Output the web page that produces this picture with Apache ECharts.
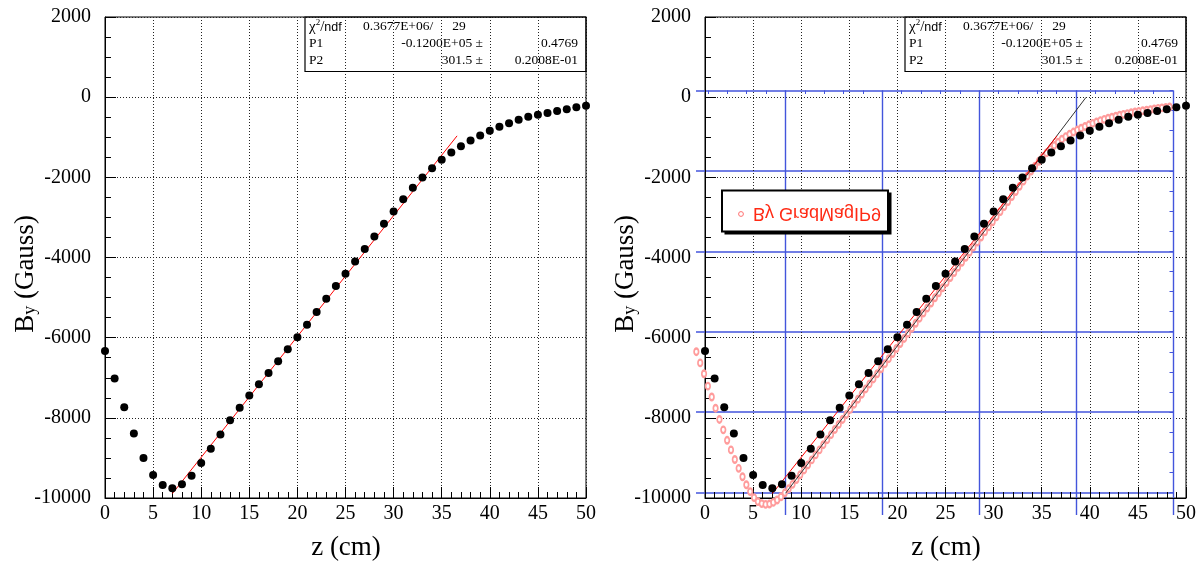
<!DOCTYPE html>
<html>
<head>
<meta charset="utf-8">
<script src="https://cdn.jsdelivr.net/npm/echarts@6.0.0/dist/echarts.min.js"></script>
<style>
html, body { margin: 0; padding: 0; background: #ffffff; }
#chart { width: 1203px; height: 562px; }
</style>
</head>
<body>
<div id="chart"></div>
<script>
// Measured field: B_y versus z, one point per cm
const zCm = [0, 1, 2, 3, 4, 5, 6, 7, 8, 9, 10, 11, 12, 13, 14, 15, 16, 17, 18, 19, 20,
  21, 22, 23, 24, 25, 26, 27, 28, 29, 30, 31, 32, 33, 34, 35, 36, 37, 38, 39, 40,
  41, 42, 43, 44, 45, 46, 47, 48, 49, 50];
const byGauss = [-6333, -7020, -7734, -8388, -9003, -9426, -9675, -9757, -9657, -9443, -9127,
  -8771, -8413, -8058, -7751, -7443, -7162, -6881, -6590, -6291, -5992,
  -5680, -5360, -5030, -4713, -4406, -4098, -3790, -3474, -3159, -2850,
  -2544, -2262, -2003, -1771, -1563, -1380, -1222, -1081, -956, -840,
  -740, -648, -565, -490, -440, -392, -346, -299, -252, -216];

// GradMagIP9 field map (open circles)
const gradZ = [-0.9, -0.5, -0.1, 0.3, 0.7, 1.1, 1.5, 1.9, 2.3, 2.7,
  3.1, 3.5, 3.9, 4.3, 4.7, 5.1, 5.5, 5.9, 6.3, 6.7,
  7.1, 7.5, 7.9, 8.3, 8.7, 9.1, 9.5, 9.9, 10.3, 10.7,
  11.1, 11.5, 11.9, 12.3, 12.7, 13.1, 13.5, 13.9, 14.3, 14.7,
  15.1, 15.5, 15.9, 16.3, 16.7, 17.1, 17.5, 17.9, 18.3, 18.7,
  19.1, 19.5, 19.9, 20.3, 20.7, 21.1, 21.5, 21.9, 22.3, 22.7,
  23.1, 23.5, 23.9, 24.3, 24.7, 25.1, 25.5, 25.9, 26.3, 26.7,
  27.1, 27.5, 27.9, 28.3, 28.7, 29.1, 29.5, 29.9, 30.3, 30.7,
  31.1, 31.5, 31.9, 32.3, 32.7, 33.1, 33.5, 33.9, 34.3, 34.7,
  35.1, 35.5, 35.9, 36.3, 36.7, 37.1, 37.5, 37.9, 38.3, 38.7,
  39.1, 39.5, 39.9, 40.3, 40.7, 41.1, 41.5, 41.9, 42.3, 42.7,
  43.1, 43.5, 43.9, 44.3, 44.7, 45.1, 45.5, 45.9, 46.3, 46.7,
  47.1, 47.5, 47.9, 48.3];
const gradBy = [-6350, -6630, -6900, -7210, -7480, -7760, -8040, -8300, -8560, -8800,
  -9040, -9260, -9470, -9670, -9840, -9990, -10090, -10140, -10160, -10150,
  -10110, -10050, -9970, -9870, -9770, -9660, -9540, -9420, -9300, -9175,
  -9050, -8925, -8800, -8670, -8545, -8420, -8290, -8165, -8040, -7915,
  -7790, -7660, -7535, -7410, -7280, -7155, -7030, -6900, -6775, -6650,
  -6525, -6395, -6270, -6145, -6020, -5890, -5765, -5640, -5515, -5385,
  -5260, -5135, -5005, -4880, -4755, -4625, -4500, -4375, -4245, -4120,
  -3995, -3870, -3740, -3615, -3490, -3360, -3235, -3110, -2985, -2855,
  -2730, -2605, -2480, -2355, -2225, -2095, -1970, -1845, -1720, -1600,
  -1490, -1390, -1295, -1205, -1125, -1050, -985, -925, -870, -820,
  -775, -730, -690, -655, -620, -585, -555, -525, -500, -475,
  -450, -430, -410, -390, -370, -355, -340, -325, -310, -295,
  -280, -268, -255, -245];

// straight line through the GradMagIP9 map
const gradFitZ = [8.37, 39.6];
const gradFitBy = [-9883, -7];

// linear fit p1 + p2*z over the fit range
const fitRange = [7, 36.6];
const chi2 = 367700, ndf = 29;
const p1 = -12000, p1Err = 0.4769;
const p2 = 301.5, p2Err = 0.02008;

const legendText = 'By GradMagIP9';

const SERIF = '"Liberation Serif", "DejaVu Serif", serif';
const SANS = '"Liberation Sans", Arial, sans-serif';
const BLUE = '#4355dc';

// FORTRAN-style exponent format, e.g. 0.3677E+06
function rootE(v) {
  const sign = v < 0 ? '-' : '';
  const a = Math.abs(v);
  const e = Math.floor(Math.log10(a)) + 1;
  const m = (a / Math.pow(10, e)).toFixed(4);
  return sign + m + 'E' + (e < 0 ? '-' : '+') + String(Math.abs(e)).padStart(2, '0');
}

const pts = zCm.map((z, i) => [z, byGauss[i]]);
const gradPts = gradZ.map((z, i) => [z, gradBy[i]]);
const fitPts = fitRange.map(z => [z, p1 + p2 * z]);
const gradFitPts = gradFitZ.map((z, i) => [z, gradFitBy[i]]);

const FRAME = { top: 17, width: 481, height: 481 };
const panelLeft = [105, 705];

function mainX(gi) {
  return {
    gridIndex: gi, type: 'value', min: 0, max: 50, interval: 5,
    axisLine: { show: true, onZero: false, lineStyle: { color: '#000', width: 1 } },
    axisTick: { show: true, inside: true, length: 11, lineStyle: { color: '#000' } },
    minorTick: { show: true, splitNumber: 5, length: 6, lineStyle: { color: '#000' } },
    axisLabel: { color: '#000', fontFamily: SERIF, fontSize: 20, margin: 6, formatter: v => String(v) },
    splitLine: { show: true, lineStyle: { color: '#222', width: 1, type: [1, 2] } }
  };
}
function mainY(gi) {
  return {
    gridIndex: gi, type: 'value', min: -10000, max: 2000, interval: 2000,
    axisLine: { show: true, onZero: false, lineStyle: { color: '#000', width: 1 } },
    axisTick: { show: true, inside: true, length: 11, lineStyle: { color: '#000' } },
    minorTick: { show: true, splitNumber: 4, length: 6, lineStyle: { color: '#000' } },
    axisLabel: { color: '#000', fontFamily: SERIF, fontSize: 20, margin: 14, formatter: v => String(v) },
    splitLine: { show: true, lineStyle: { color: '#222', width: 1, type: [1, 2] } }
  };
}

// fit statistics box in the top-right corner of a frame
function statBox(x0) {
  const rowY = [26.5, 43.3, 60];
  const font = '13.5px ' + SERIF;
  const els = [
    { type: 'rect', z: 50, shape: { x: x0 + 200, y: FRAME.top, width: 281, height: 54.5 },
      style: { fill: 'none', stroke: '#000', lineWidth: 1.2 } }
  ];
  const t = (x, y, text, align) => ({
    type: 'text', z: 51, x: x, y: y,
    style: { text: text, font: font, fill: '#000', textAlign: align, textVerticalAlign: 'middle' }
  });
  els.push({
    type: 'text', z: 51, x: x0 + 204, y: rowY[0],
    style: {
      text: '{a|χ}{s|2}{a|/}{n|ndf}', textVerticalAlign: 'middle',
      rich: {
        a: { fontFamily: SERIF, fontSize: 15, fill: '#000', lineHeight: 16, verticalAlign: 'bottom' },
        s: { fontFamily: SERIF, fontSize: 9, fill: '#000', lineHeight: 10, verticalAlign: 'top' },
        n: { fontFamily: SANS, fontSize: 12.5, fill: '#000', lineHeight: 16, verticalAlign: 'bottom' }
      }
    }
  });
  els.push(t(x0 + 258, rowY[0], rootE(chi2) + '/', 'left'));
  els.push(t(x0 + 354, rowY[0], String(ndf), 'center'));
  els.push(t(x0 + 204, rowY[1], 'P1', 'left'));
  els.push(t(x0 + 378, rowY[1], rootE(p1) + ' ±', 'right'));
  els.push(t(x0 + 473, rowY[1], String(p1Err), 'right'));
  els.push(t(x0 + 204, rowY[2], 'P2', 'left'));
  els.push(t(x0 + 378, rowY[2], p2.toFixed(1) + ' ±', 'right'));
  els.push(t(x0 + 473, rowY[2], rootE(p2Err), 'right'));
  return els;
}

function yTitle(x) {
  return {
    type: 'text', z: 51, x: x, y: 274, rotation: Math.PI / 2,
    style: {
      text: '{b|B}{s|y}{b| (Gauss)}', textAlign: 'center', textVerticalAlign: 'middle',
      rich: {
        b: { fontFamily: SERIF, fontSize: 27, fill: '#000', lineHeight: 26, verticalAlign: 'bottom' },
        s: { fontFamily: SERIF, fontSize: 18, fill: '#000', lineHeight: 12, verticalAlign: 'bottom' }
      }
    }
  };
}
function xTitle(x) {
  return {
    type: 'text', z: 51, x: x, y: 548,
    style: { text: 'z (cm)', font: '27px ' + SERIF, fill: '#000', textAlign: 'center', textVerticalAlign: 'middle' }
  };
}

// upside-down legend of the GradMagIP9 overlay
const legendEls = [
  { type: 'rect', z: 60, shape: { x: 724.5, y: 192.5, width: 167, height: 42 }, style: { fill: '#000' } },
  { type: 'rect', z: 61, shape: { x: 722, y: 190.5, width: 166, height: 41 },
    style: { fill: '#fff', stroke: '#000', lineWidth: 2 } },
  { type: 'circle', z: 62, shape: { cx: 741, cy: 214, r: 2.4 },
    style: { fill: 'none', stroke: '#ff7070', lineWidth: 1 } },
  { type: 'text', z: 62, x: 753, y: 212.5, scaleY: -1,
    style: { text: legendText, font: '18px ' + SANS, fill: '#ff2a14', textAlign: 'left', textVerticalAlign: 'middle' } }
];

const option = {
  animation: false,
  backgroundColor: '#ffffff',
  grid: [
    { left: panelLeft[0], top: FRAME.top, width: FRAME.width, height: FRAME.height, show: true, borderColor: '#000', borderWidth: 1, backgroundColor: 'transparent' },
    { left: panelLeft[1], top: FRAME.top, width: FRAME.width, height: FRAME.height, show: true, borderColor: '#000', borderWidth: 1, backgroundColor: 'transparent' },
    // overlay frame: vertical rules
    { left: 688.6, top: 90.5, width: 484.4, height: 424.5, show: false },
    // overlay frame: horizontal rules
    { left: 696, top: 90.5, width: 477, height: 402, show: false }
  ],
  xAxis: [
    mainX(0), mainX(1),
    {
      gridIndex: 2, type: 'value', min: 0, max: 50, interval: 10, position: 'top',
      axisLine: { show: false, onZero: false },
      axisTick: { show: true, inside: true, length: 3.5, lineStyle: { color: BLUE, width: 1 } },
      minorTick: { show: true, splitNumber: 5, length: 3.5, lineStyle: { color: BLUE, width: 1 } },
      axisLabel: { show: false },
      splitLine: { show: true, showMinLine: false, lineStyle: { color: BLUE, width: 1.4, type: 'solid' } }
    },
    { gridIndex: 3, type: 'value', min: 0, max: 1, show: false, axisLine: { onZero: false } }
  ],
  yAxis: [
    mainY(0), mainY(1),
    { gridIndex: 2, type: 'value', min: 0, max: 1, show: false, axisLine: { onZero: false } },
    {
      gridIndex: 3, type: 'value', min: -10000, max: 0, interval: 2000, position: 'right',
      axisLine: { show: false, onZero: false },
      axisTick: { show: true, inside: true, length: 3.5, lineStyle: { color: BLUE, width: 1 } },
      minorTick: { show: true, splitNumber: 4, length: 3.5, lineStyle: { color: BLUE, width: 1 } },
      axisLabel: { show: false },
      splitLine: { show: true, lineStyle: { color: BLUE, width: 1.6, type: 'solid' } }
    }
  ],
  series: [
    {
      type: 'line', xAxisIndex: 0, yAxisIndex: 0, data: fitPts, showSymbol: false, z: 3,
      lineStyle: { color: '#ff0000', width: 1 }, clip: false
    },
    {
      type: 'scatter', xAxisIndex: 0, yAxisIndex: 0, data: pts, symbol: 'circle', symbolSize: 8, z: 4,
      itemStyle: { color: '#000', opacity: 1 }, clip: false
    },
    {
      type: 'scatter', xAxisIndex: 1, yAxisIndex: 1, data: gradPts, symbol: 'emptyCircle', symbolSize: [4.5, 6.5], z: 2,
      itemStyle: { color: '#ff9c9c', borderColor: '#ff9c9c', borderWidth: 0.9, opacity: 1 }, clip: false
    },
    {
      type: 'line', xAxisIndex: 1, yAxisIndex: 1, data: gradFitPts, showSymbol: false, z: 3,
      lineStyle: { color: '#333', width: 1 }, clip: false
    },
    {
      type: 'line', xAxisIndex: 1, yAxisIndex: 1, data: fitPts, showSymbol: false, z: 3,
      lineStyle: { color: '#ff0000', width: 1 }, clip: false
    },
    {
      type: 'scatter', xAxisIndex: 1, yAxisIndex: 1, data: pts, symbol: 'circle', symbolSize: 8, z: 4,
      itemStyle: { color: '#000', opacity: 1 }, clip: false
    }
  ],
  graphic: [].concat(
    statBox(panelLeft[0]), statBox(panelLeft[1]),
    [yTitle(26), yTitle(626), xTitle(346), xTitle(946)],
    legendEls
  )
};

const chart = echarts.init(document.getElementById('chart'), null, { renderer: 'canvas' });
chart.setOption(option);
</script>
</body>
</html>
